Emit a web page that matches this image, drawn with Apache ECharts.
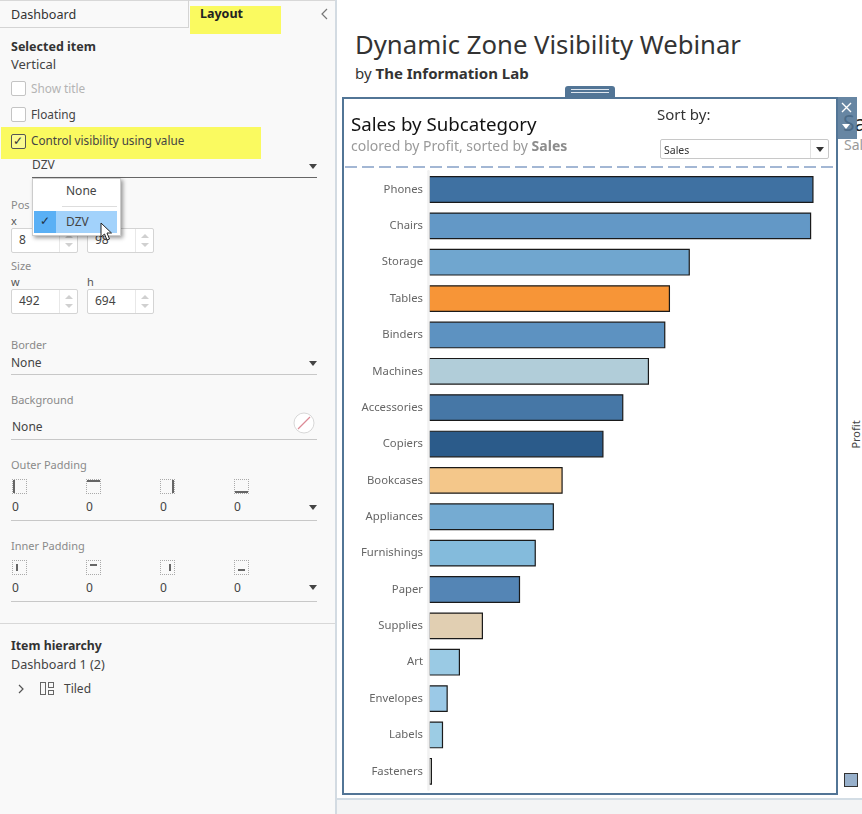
<!DOCTYPE html>
<html>
<head>
<meta charset="utf-8">
<title>Dynamic Zone Visibility Webinar</title>
<script src="https://cdn.jsdelivr.net/npm/echarts@6/dist/echarts.min.js"></script>
<style>
html, body { margin: 0; padding: 0; background: #fff; }
#page { position: relative; width: 862px; height: 814px; overflow: hidden; font-family: "Noto Sans", "Open Sans", sans-serif; color: #444; }
#page div { position: absolute; box-sizing: border-box; }
.t { white-space: nowrap; font-size: 12px; transform: translateY(-50%); line-height: 1; }
.lab { color: #8a8a8a; font-size: 11px; }
.line { height: 1px; background: #c8c8c8; }
.cb { width: 15px; height: 15px; border: 1px solid #c4c4c4; border-radius: 2px; background: #fff; }
.spin { height: 25px; border: 1px solid #d4d4d4; border-radius: 2px; background: #fff; width: 67px; }
.spin i { position: absolute; left: 47px; top: 0; bottom: 0; border-left: 1px solid #e8e8e8; }
.spin::before, .spin::after { content: ''; position: absolute; left: 53px; width: 0; height: 0; border-left: 4px solid transparent; border-right: 4px solid transparent; }
.spin::before { top: 5px; border-bottom: 4px solid #d0d0d0; }
.spin::after { top: 14px; border-top: 4px solid #d0d0d0; }
.tri { width: 0; height: 0; border-left: 4px solid transparent; border-right: 4px solid transparent; border-top: 5px solid #444; }
</style>
</head>
<body>
<div id="page">
	<!-- left panel -->
	<div style="left:0;top:0;width:335px;height:814px;background:#f9f9f9"></div>
	<div style="left:335px;top:0;width:2px;height:814px;background:#d3dbe2"></div>
	<div style="left:0;top:0;width:335px;height:1px;background:#d8d8d8"></div>
	<div style="left:0;top:27px;width:189px;height:1px;background:#d4d4d4"></div>
	<div style="left:188px;top:0;width:1px;height:28px;background:#d4d4d4"></div>
	<div style="left:190px;top:6px;width:91px;height:28px;background:#fafa60"></div>
	<div style="left:1px;top:127px;width:260px;height:32px;background:#fafa60"></div>
	<div class="t" style="left:11px;top:15px;font-size:12.6px;color:#333">Dashboard</div>
	<div class="t" style="left:200px;top:14px;font-size:12.5px;font-weight:700;color:#222">Layout</div>
	<svg style="position:absolute;left:320px;top:8px" width="10" height="12"><path d="M7 1 L2 6 L7 11" fill="none" stroke="#777" stroke-width="1.2"/></svg>

	<div class="t" style="left:11px;top:47px;font-size:12.5px;font-weight:700;color:#333">Selected item</div>
	<div class="t" style="left:11px;top:64px;font-size:13px">Vertical</div>
	<div class="cb" style="left:11px;top:81px"></div>
	<div class="t" style="left:31px;top:89px;color:#b4b4b4;font-size:11.8px">Show title</div>
	<div class="cb" style="left:11px;top:107px"></div>
	<div class="t" style="left:31px;top:115px;font-size:11.8px">Floating</div>
	<div class="cb" style="left:11px;top:134px;border-color:#555;background:#fafa90"></div>
	<div class="t" style="left:13px;top:141px;font-size:12px;color:#333">&#10003;</div>
	<div class="t" style="left:31px;top:141px;font-size:11.7px">Control visibility using value</div>
	<div class="t" style="left:32px;top:165px;font-size:12px">DZV</div>
	<div class="line" style="left:32px;top:177px;width:285px;background:#666"></div>
	<div class="tri" style="left:309px;top:164px"></div>

	<div class="t lab" style="left:11px;top:204px">Pos</div>
	<div class="t lab" style="left:11px;top:220px;color:#555">x</div>
	<div class="spin" style="left:11px;top:228px"><i></i></div>
	<div class="t" style="left:19px;top:240px;font-size:12px">8</div>
	<div class="spin" style="left:87px;top:228px"><i></i></div>
	<div class="t" style="left:95px;top:240px;font-size:12px">98</div>
	<div class="t lab" style="left:11px;top:265px">Size</div>
	<div class="t lab" style="left:11px;top:281px;color:#555">w</div>
	<div class="t lab" style="left:87px;top:281px;color:#555">h</div>
	<div class="spin" style="left:11px;top:289px"><i></i></div>
	<div class="t" style="left:19px;top:301px;font-size:12px">492</div>
	<div class="spin" style="left:87px;top:289px"><i></i></div>
	<div class="t" style="left:95px;top:301px;font-size:12px">694</div>

	<!-- dropdown popup -->
	<div style="left:32px;top:178px;width:89px;height:58px;background:#fff;border:1px solid #ccc;box-shadow:2px 2px 4px rgba(0,0,0,.4)"></div>
	<div class="t" style="left:66px;top:191px;font-size:12px">None</div>
	<div style="left:62px;top:206px;width:55px;height:1px;background:#ddd"></div>
	<div style="left:34px;top:211px;width:22px;height:22px;background:#5ab0f5"></div>
	<div style="left:56px;top:211px;width:61px;height:22px;background:#a2d2fb"></div>
	<div class="t" style="left:40px;top:221px;font-size:12px;color:#234">&#10003;</div>
	<div class="t" style="left:66px;top:222px;font-size:12px">DZV</div>
	<svg style="position:absolute;left:100px;top:222px" width="16" height="20"><path d="M1 1 L1 15 L4.5 12 L7 18 L9.5 17 L7 11 L11.5 11 Z" fill="#fff" stroke="#222" stroke-width="1"/></svg>

	<div class="t lab" style="left:11px;top:344px">Border</div>
	<div class="t" style="left:11px;top:363px;font-size:12px">None</div>
	<div class="line" style="left:11px;top:374px;width:306px"></div>
	<div class="tri" style="left:309px;top:361px"></div>
	<div class="t lab" style="left:11px;top:399px">Background</div>
	<div class="t" style="left:12px;top:427px;font-size:12px">None</div>
	<div class="line" style="left:11px;top:439px;width:306px"></div>
	<svg style="position:absolute;left:293px;top:412px" width="22" height="22"><circle cx="11" cy="11" r="10" fill="#fff" stroke="#d8d8d8"/><path d="M5 17 L17 5" stroke="#dc8a96" stroke-width="1.3"/></svg>

	<div class="t lab" style="left:11px;top:464px">Outer Padding</div>
	<div class="line" style="left:11px;top:520px;width:306px"></div>
	<div class="tri" style="left:309px;top:505px"></div>
	<div class="t lab" style="left:11px;top:545px">Inner Padding</div>
	<div class="line" style="left:11px;top:601px;width:306px"></div>
	<div class="tri" style="left:309px;top:585px"></div>
	<div style="left:0;top:623px;width:335px;height:1px;background:#d8d8d8"></div>
	<div class="t" style="left:11px;top:646px;font-size:12.3px;font-weight:700;color:#333">Item hierarchy</div>
	<div class="t" style="left:11px;top:665px;font-size:12.6px">Dashboard 1 (2)</div>
	<svg style="position:absolute;left:17px;top:684px" width="8" height="10"><path d="M2 1 L6 5 L2 9" fill="none" stroke="#555" stroke-width="1.2"/></svg>
	<svg style="position:absolute;left:40px;top:682px" width="14" height="14"><g fill="none" stroke="#666"><rect x=".5" y=".5" width="5" height="12"/><rect x="8.5" y=".5" width="5" height="5"/><rect x="8.5" y="8.5" width="5" height="4"/></g></svg>
	<div class="t" style="left:64px;top:689px;font-size:12px">Tiled</div>

	<!-- header -->
	<div class="t" style="left:355px;top:45px;font-size:25.7px;color:#333">Dynamic Zone Visibility Webinar</div>
	<div class="t" style="left:355px;top:73px;font-size:15px;color:#333">by <b>The Information Lab</b></div>

	<!-- what shows behind the selected frame on the right -->
	<div class="t" style="left:843px;top:123px;font-size:21px;color:#222">Sa</div>
	<div class="t" style="left:844px;top:145px;font-size:14px;color:#999">Sal</div>
	<div class="t" style="left:855px;top:429px;font-size:11px;color:#444;transform:rotate(-90deg) translateX(-50%);transform-origin:left center">Profit</div>
	<div style="left:844px;top:773px;width:14px;height:14px;background:#97b0cb;border:1px solid #333"></div>

	<!-- bottom strip -->
	<div style="left:337px;top:798px;width:525px;height:2px;background:#d3dde5"></div>
	<div style="left:337px;top:800px;width:525px;height:14px;background:#f3f4f5"></div>

	<!-- selected frame -->
	<div style="left:342px;top:97px;width:496px;height:698px;border:2px solid #527596;background:#fff"></div>
	<div style="left:565px;top:86px;width:50px;height:12px;background:#527596;border-radius:3px 3px 0 0"></div>
	<div style="left:571px;top:89px;width:38px;height:1px;background:#dfe6ee"></div>
	<div style="left:571px;top:92px;width:38px;height:1px;background:#dfe6ee"></div>
	<div id="chart" style="left:344px;top:99px;width:492px;height:694px"></div>
	<div style="left:345px;top:166px;width:490px;height:2px;background:repeating-linear-gradient(90deg,#a3b7d4 0 12px,transparent 12px 17px)"></div>
	<div style="left:836px;top:97px;width:21px;height:42px;background:rgba(82,117,150,.88)"></div>
	<svg style="position:absolute;left:841px;top:102px" width="12" height="32"><path d="M1 1 L10 10 M10 1 L1 10" stroke="#fff" stroke-width="1.4"/><path d="M1 22 L9 22 L5 27 Z" fill="#fff"/></svg>

	<div class="t" style="left:657px;top:114px;font-size:15px;color:#333">Sort by:</div>
	<div style="left:660px;top:139px;width:169px;height:20px;background:#fff;border:1px solid #c8c8c8;border-radius:2px"></div>
	<div style="left:810px;top:140px;width:1px;height:18px;background:#e2e2e2"></div>
	<div class="t" style="left:664px;top:150px;font-size:10.5px;color:#333">Sales</div>
	<div class="tri" style="left:816px;top:147px;border-top-color:#333"></div>
</div>
<script>
var categories = ['Phones', 'Chairs', 'Storage', 'Tables', 'Binders', 'Machines', 'Accessories', 'Copiers', 'Bookcases',
	'Appliances', 'Furnishings', 'Paper', 'Supplies', 'Art', 'Envelopes', 'Labels', 'Fasteners'
];
var sales = [330000, 328000, 224000, 207000, 203000, 189000, 167000, 150000, 115000, 107500, 92000, 78500, 46700, 27000, 16500,
	12500, 3000
];
var barColors = ['#3f71a2', '#6398c6', '#70a6cf', '#f79537', '#5d92c1', '#b1cdd9', '#4677a6', '#2b5b8a', '#f4c78a', '#75abd2',
	'#84bbdc', '#5485b5', '#e1cfb2', '#9acae4', '#9bc9e7', '#9ccce4', '#d6d9d4'
];

// padding icons of the left panel: dotted box with one thick side
function padIcons(top, inner) {
	var xs = [12, 86, 160, 234];
	var zeroTop = top + 28;
	var html = '';
	var off = inner ? 3 : 0;
	xs.forEach(function(x, i) {
		var bar = [
			'left:' + off + 'px;top:' + off + 'px;width:2px;height:' + (13 - off * 2) + 'px',
			'left:' + off + 'px;top:' + off + 'px;height:2px;width:' + (13 - off * 2) + 'px',
			'right:' + off + 'px;top:' + off + 'px;width:2px;height:' + (13 - off * 2) + 'px',
			'left:' + off + 'px;bottom:' + off + 'px;height:2px;width:' + (13 - off * 2) + 'px'
		][i];
		html += '<div style="left:' + x + 'px;top:' + top + 'px;width:15px;height:15px;border:1px dotted #aaa">' +
			'<div style="' + bar + ';background:#666"></div></div>';
		html += '<div class="t" style="left:' + x + 'px;top:' + zeroTop + 'px;font-size:12px">0</div>';
	});
	document.getElementById('page').insertAdjacentHTML('beforeend', html);
}
padIcons(479, false);
padIcons(560, true);

var chart = echarts.init(document.getElementById('chart'));
chart.setOption({
	animation: false,
	backgroundColor: 'transparent',
	textStyle: { fontFamily: '"Noto Sans", "Open Sans", sans-serif' },
	title: {
		left: 7,
		top: 17,
		padding: 0,
		itemGap: 5,
		text: 'Sales by Subcategory',
		textStyle: { fontSize: 18.7, fontWeight: 'normal', color: '#111', fontFamily: '"Noto Sans", sans-serif' },
		subtext: 'colored by Profit, sorted by {b|Sales}',
		subtextStyle: {
			fontSize: 14,
			color: '#9a9a9a',
			fontFamily: '"Noto Sans", sans-serif',
			rich: { b: { fontSize: 14, fontWeight: 'bold', color: '#8c8c8c', fontFamily: '"Noto Sans", sans-serif' } }
		}
	},
	grid: { left: 84.5, top: 72.3, width: 396.7, height: 618.2 },
	xAxis: { type: 'value', min: 0, max: 340000, show: false },
	yAxis: {
		type: 'category',
		inverse: true,
		data: categories,
		z: 5,
		axisTick: { show: false },
		axisLine: { show: true, lineStyle: { color: '#f1f1f1', width: 2.5 } },
		axisLabel: { color: '#666', fontSize: 11.3, margin: 5.5, interval: 0 }
	},
	series: [{
		type: 'bar',
		barWidth: 26.8,
		data: sales.map(function(v, i) {
			return { value: v, itemStyle: { color: barColors[i] } };
		}),
		itemStyle: { borderColor: '#1a1a1a', borderWidth: 1.2 },
		silent: true
	}]
});
</script>
</body>
</html>
